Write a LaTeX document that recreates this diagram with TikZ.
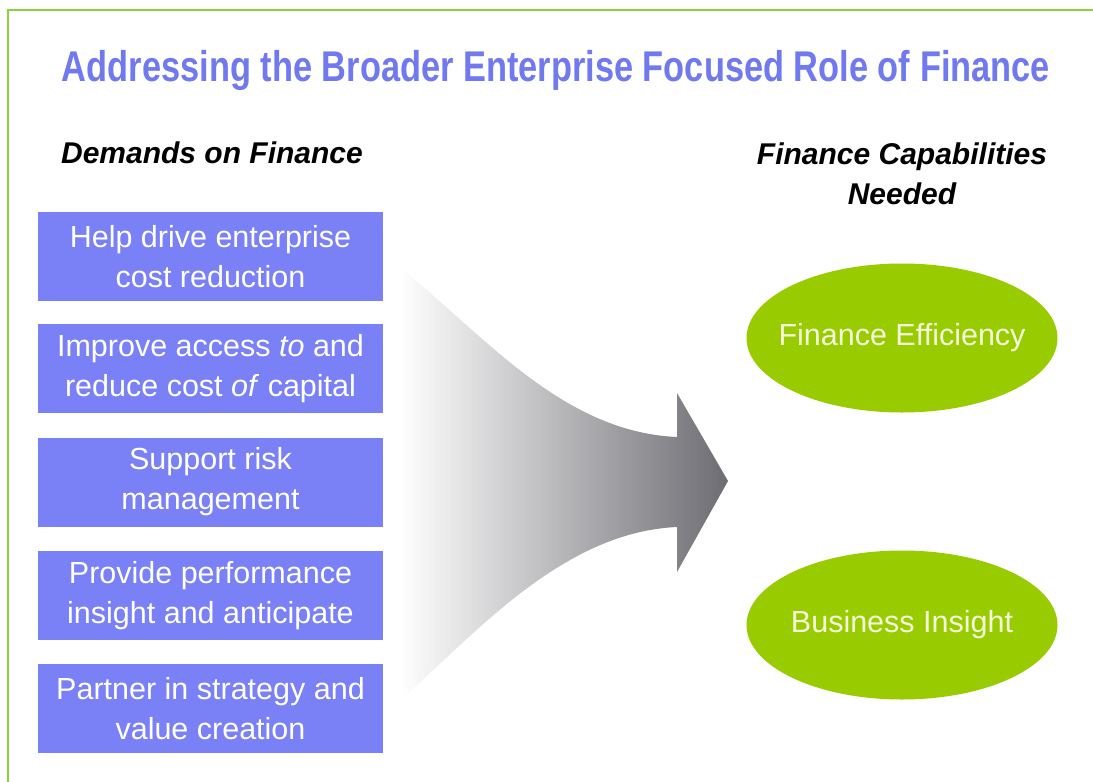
\documentclass[tikz,border=0pt]{standalone}
\usepackage{fontspec}
\setmainfont{Liberation Sans}
\usepackage{graphicx}
\definecolor{frame}{RGB}{140,208,60}
\definecolor{titleblue}{RGB}{112,122,238}
\definecolor{boxblue}{RGB}{122,128,246}
\definecolor{ovalgreen}{RGB}{153,204,0}
\definecolor{ovaltext}{RGB}{246,250,220}
\definecolor{arrowdark}{RGB}{108,108,114}
\tikzset{
  demand/.style={fill=boxblue, minimum width=345pt, minimum height=89pt, inner sep=0pt,
    text=white, align=center, font=\fontsize{30.5}{40}\selectfont},
  capab/.style={ellipse, fill=ovalgreen, minimum width=311pt, minimum height=149pt, inner sep=0pt,
    text=ovaltext, font=\fontsize{30.5}{32}\selectfont},
  heading/.style={align=center, font=\fontsize{30}{40}\selectfont\bfseries\itshape},
}
\usetikzlibrary{shapes.geometric}
\begin{document}
\begin{tikzpicture}[x=1pt,y=-1pt]
\useasboundingbox (0,0) rectangle (1093,782);
\fill[white] (0,0) rectangle (1093,782);
\draw[frame, line width=2pt] (8,800) -- (8,10) -- (1100,10);
\node[text=titleblue, font=\fontsize{33}{36}\selectfont\bfseries, anchor=base, inner sep=0pt] (title) at (556,81)
  {\resizebox{988pt}{!}{\scalebox{1}[1.25]{Addressing the Broader Enterprise Focused Role of Finance}}};
\node[heading] (hl) at (212,153) {Demands on Finance};
\node[heading, anchor=north] (hr) at (902,139) {Finance Capabilities\\Needed};
\node[demand] (d1) at (210.5,256.5) {Help drive enterprise\\cost reduction};
\node[demand] (d2) at (210.5,368.5) {Improve access \emph{to} and\\reduce cost \emph{of} capital};
\node[demand] (d3) at (210.5,482) {Support risk\\management};
\node[demand] (d4) at (210.5,595.5) {Provide performance\\insight and anticipate};
\node[demand] (d5) at (210.5,708.5) {Partner in strategy and\\value creation};
\node[capab] (c1) at (902,338) {\makebox[0pt]{Finance Efficiency}};
\node[capab] (c2) at (902,625) {\makebox[0pt]{Business Insight}};
\shade[left color=white, right color=arrowdark]
  (400,268) .. controls (480,330) and (560,432) .. (677,437)
  -- (677,393) -- (728,481) -- (677,572) -- (677,527)
  .. controls (560,532) and (470,640) .. (400,700) -- cycle;
\end{tikzpicture}
\end{document}
